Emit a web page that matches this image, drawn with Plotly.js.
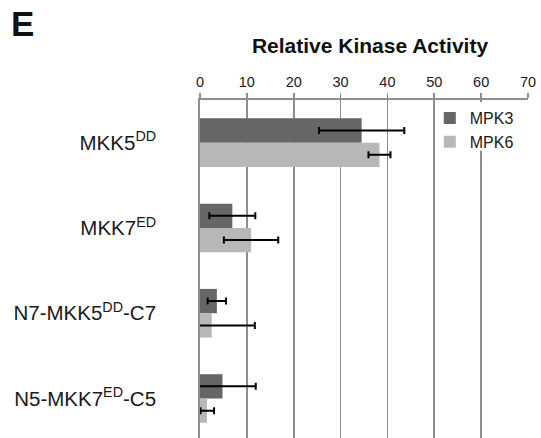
<!DOCTYPE html>
<html>
<head>
<meta charset="utf-8">
<script src="https://cdn.plot.ly/plotly-3.0.1.min.js"></script>
<style>html,body{margin:0;padding:0;background:#fff;}#chart{width:541px;height:438px;}</style>
</head>
<body>
<div id="chart"></div>
<script>
const categories = ["MKK5<sup>DD</sup>", "MKK7<sup>ED</sup>", "N7-MKK5<sup>DD</sup>-C7", "N5-MKK7<sup>ED</sup>-C5"];
const seriesNames = ["MPK3", "MPK6"];
const mpk3 = [34.5, 6.9, 3.6, 4.8];
const mpk3ErrPlus = [9.1, 4.9, 1.95, 7.1];
const mpk3ErrMinus = [9.1, 4.9, 1.95, 7.1];
const mpk6 = [38.3, 10.9, 2.5, 1.5];
const mpk6ErrPlus = [2.35, 5.8, 9.2, 1.5];
const mpk6ErrMinus = [2.35, 5.8, 9.2, 1.4];
const xTicks = [0, 10, 20, 30, 40, 50, 60, 70];

function errObj(plus, minus) {
  return {type: 'data', symmetric: false, array: plus, arrayminus: minus,
          color: '#000', thickness: 2, width: 3.5};
}

const traces = [
  {type: 'bar', orientation: 'h', name: seriesNames[0], y: categories, x: mpk3,
   marker: {color: '#666666'}, error_x: errObj(mpk3ErrPlus, mpk3ErrMinus), legendgroup: 'a'},
  {type: 'bar', orientation: 'h', name: seriesNames[1], y: categories, x: mpk6,
   marker: {color: '#b8b8b8'}, error_x: errObj(mpk6ErrPlus, mpk6ErrMinus), legendgroup: 'b'}
];

const FONT = 'Liberation Sans, Arial, sans-serif';
const layout = {
  width: 541, height: 438,
  margin: {l: 200, r: 12.7, t: 100, b: 0, pad: 0},
  paper_bgcolor: '#fff', plot_bgcolor: '#fff',
  font: {family: FONT, color: '#1a1a1a', size: 14},
  barmode: 'group', bargap: 0.43, bargroupgap: 0,
  title: {text: '<b>Relative Kinase Activity</b>', xref: 'container', x: 370/541, xanchor: 'center',
          yref: 'container', y: 1 - 45.5/438, yanchor: 'middle',
          font: {size: 21, color: '#111', family: FONT}},
  xaxis: {side: 'top', range: [0, 70], tickvals: xTicks, ticktext: xTicks.map(String),
          showgrid: true, gridcolor: '#8e8e8e', gridwidth: 1.8,
          showline: true, linecolor: '#8e8e8e', linewidth: 1.8,
          ticks: 'outside', ticklen: 5, tickcolor: '#8e8e8e', tickwidth: 1.8,
          zeroline: false, tickfont: {size: 14.5, color: '#1a1a1a'}, fixedrange: true},
  yaxis: {type: 'category', range: [3.463, -0.5], showgrid: false, zeroline: false,
          showline: true, linecolor: '#8e8e8e', linewidth: 1.8,
          ticks: '', ticklabelstandoff: 38, tickfont: {size: 20.5, color: '#1a1a1a'}, fixedrange: true},
  showlegend: true,
  legend: {x: (430-200)/328.3, xanchor: 'left', y: 1 - 1/338, yanchor: 'top', bgcolor: 'rgba(0,0,0,0)',
           font: {size: 16, color: '#1a1a1a'}, traceorder: 'grouped', tracegroupgap: 0,
           itemwidth: 30},
  shapes: [{type: 'rect', xref: 'x', yref: 'paper', x0: 52, x1: 68, y0: 0.85, y1: 0.993,
            fillcolor: 'rgba(255,255,255,1)', line: {width: 0, color: 'rgba(0,0,0,0)'}, layer: 'above'}],
  annotations: [{text: '<b>E</b>', xref: 'paper', yref: 'paper', x: (9-200)/328.3, y: 1 + 76/338,
                 xanchor: 'left', yanchor: 'middle', showarrow: false,
                 font: {size: 35, color: '#111', family: FONT}}]
};

Plotly.newPlot('chart', traces, layout, {displayModeBar: false, staticPlot: true});
</script>
</body>
</html>
